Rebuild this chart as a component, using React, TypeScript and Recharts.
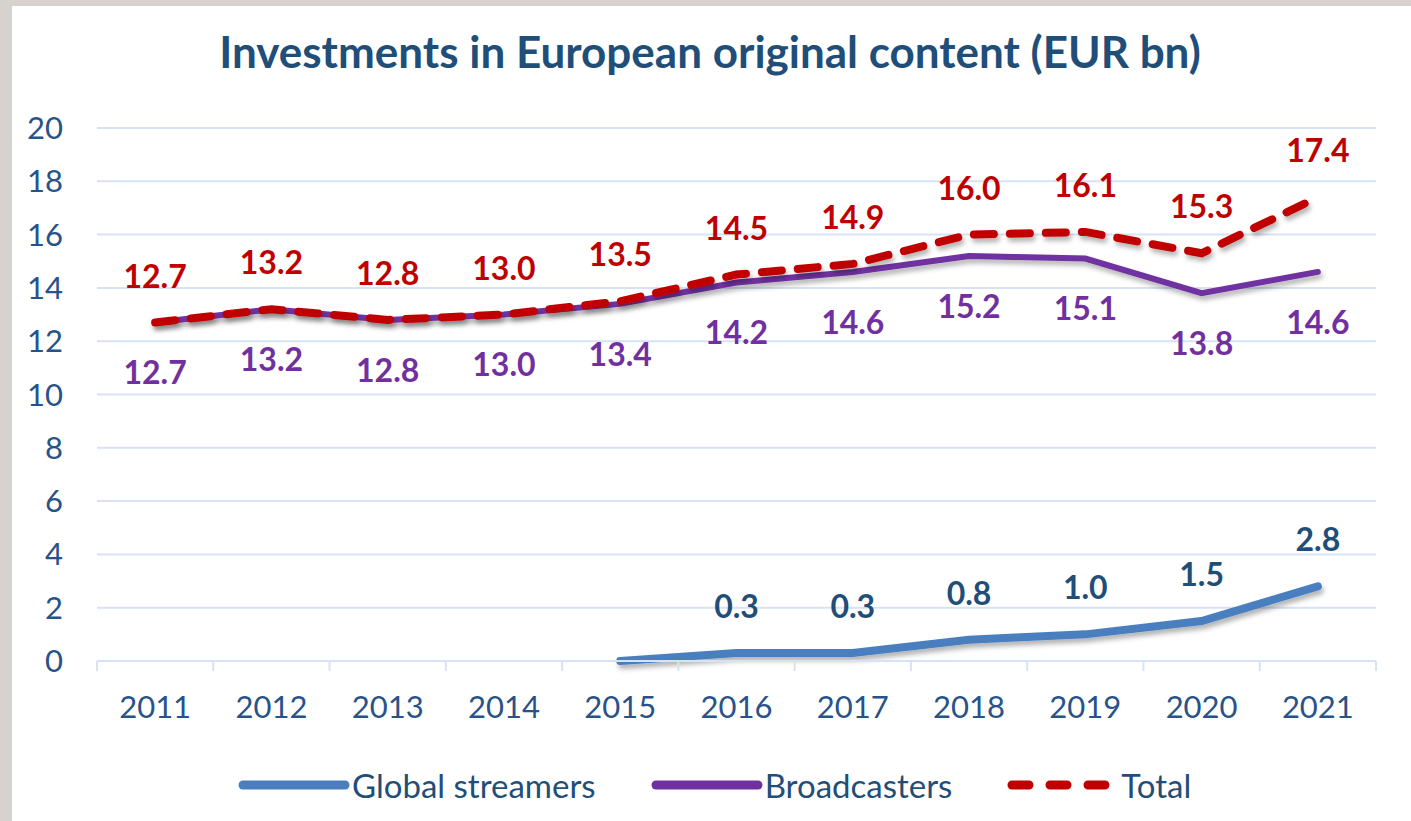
import React from "react";
import {
  LineChart,
  Line,
  XAxis,
  YAxis,
  CartesianGrid,
  LabelList,
} from "recharts";

const years = ["2011", "2012", "2013", "2014", "2015", "2016", "2017", "2018", "2019", "2020", "2021"];
const globalStreamers = [null, null, null, null, 0, 0.3, 0.3, 0.8, 1.0, 1.5, 2.8];
const broadcasters = [12.7, 13.2, 12.8, 13.0, 13.4, 14.2, 14.6, 15.2, 15.1, 13.8, 14.6];
const total = [12.7, 13.2, 12.8, 13.0, 13.5, 14.5, 14.9, 16.0, 16.1, 15.3, 17.4];
const yTicks = [0, 2, 4, 6, 8, 10, 12, 14, 16, 18, 20];

const W = 1411;
const H = 821;
const FONT = "Lato, 'Open Sans', sans-serif";
const NAVY = "#1f4e79";
const TICK = "#28528a";
const GRID = "#d9e2f3";
const BLUE = "#4a7ebf";
const PURPLE = "#7030a0";
const RED = "#c00000";

const data = years.map((year, i) => ({
  x: i + 0.5,
  year,
  global: globalStreamers[i],
  broadcasters: broadcasters[i],
  total: total[i],
}));

const markTicks = years.map((_, i) => i).concat(years.length);
const yearTicks = years.map((_, i) => i + 0.5);

const fmt = (v: any) => (v === null || v === undefined || v === 0 ? null : Number(v).toFixed(1));

const labelStyle = (fill: string) => ({
  fill,
  fontSize: 32,
  fontWeight: 700,
  fontFamily: FONT,
});

const legendItems = [
  { name: "Global streamers", color: BLUE, dashed: false },
  { name: "Broadcasters", color: PURPLE, dashed: false },
  { name: "Total", color: RED, dashed: true },
];

export default function App() {
  return (
    <div
      style={{
        position: "absolute",
        left: 0,
        top: 0,
        width: W,
        height: H,
        background: "#ffffff",
        fontFamily: FONT,
        overflow: "hidden",
      }}
    >
      <svg width={0} height={0} style={{ position: "absolute" }}>
        <defs>
          <filter id="lineShadow" x="-10%" y="-50%" width="120%" height="200%">
            <feDropShadow dx="2" dy="4" stdDeviation="2.5" floodColor="#000" floodOpacity="0.3" />
          </filter>
        </defs>
      </svg>
      <div style={{ position: "absolute", left: 0, top: 0, width: W, height: 6, background: "#d6d2cd" }} />
      <div style={{ position: "absolute", left: 0, top: 0, width: 12, height: H, background: "#d6d2cd" }} />

      <svg width={W} height={90} style={{ position: "absolute", left: 0, top: 0 }}>
        <text x={710} y={68} textAnchor="middle" fill={NAVY} fontSize={44} fontWeight={700} fontFamily={FONT}>
          Investments in European original content (EUR bn)
        </text>
      </svg>

      <div style={{ position: "absolute", left: 0, top: 0 }}>
        <LineChart
          width={W}
          height={H}
          data={data}
          margin={{ top: 128, right: 35, left: 0, bottom: 90 }}
        >
          <CartesianGrid xAxisId="marks" vertical={false} stroke={GRID} strokeWidth={2} />
          <XAxis
            xAxisId="marks"
            dataKey="x"
            type="number"
            domain={[0, years.length]}
            ticks={markTicks}
            interval={0}
            tickFormatter={() => ""}
            height={10}
            tickSize={10}
            axisLine={{ stroke: GRID, strokeWidth: 2 }}
            tickLine={{ stroke: GRID, strokeWidth: 2 }}
          />
          <XAxis
            xAxisId="years"
            dataKey="x"
            type="number"
            domain={[0, years.length]}
            ticks={yearTicks}
            interval={0}
            tickFormatter={(v: number) => years[Math.floor(v)]}
            height={60}
            tickSize={0}
            tickMargin={25}
            axisLine={false}
            tickLine={false}
            tick={{ fill: TICK, fontSize: 31, fontFamily: FONT }}
          />
          <YAxis
            domain={[0, 20]}
            ticks={yTicks}
            interval={0}
            width={97}
            tickSize={0}
            tickMargin={34}
            axisLine={false}
            tickLine={false}
            tick={{ fill: TICK, fontSize: 31, fontFamily: FONT }}
          />
          <Line
            xAxisId="marks"
            dataKey="global"
            type="linear"
            stroke={BLUE}
            strokeWidth={8}
            strokeLinecap="round"
            dot={false}
            activeDot={false}
            filter="url(#lineShadow)"
            isAnimationActive={false}
          >
            <LabelList dataKey="global" position="top" offset={35} formatter={fmt} style={labelStyle(NAVY)} />
          </Line>
          <Line
            xAxisId="marks"
            dataKey="broadcasters"
            type="linear"
            stroke={PURPLE}
            strokeWidth={6}
            strokeLinecap="round"
            dot={false}
            activeDot={false}
            filter="url(#lineShadow)"
            isAnimationActive={false}
          >
            <LabelList dataKey="broadcasters" position="bottom" offset={39} formatter={fmt} style={labelStyle(PURPLE)} />
          </Line>
          <Line
            xAxisId="marks"
            dataKey="total"
            type="linear"
            stroke={RED}
            strokeWidth={8}
            strokeDasharray="20 16"
            strokeLinecap="round"
            dot={false}
            activeDot={false}
            filter="url(#lineShadow)"
            isAnimationActive={false}
          >
            <LabelList dataKey="total" position="top" offset={35} formatter={fmt} style={labelStyle(RED)} />
          </Line>
        </LineChart>
      </div>

      <div
        style={{
          position: "absolute",
          left: 238,
          top: 765,
          height: 40,
          display: "flex",
          alignItems: "center",
          gap: 55,
        }}
      >
        {legendItems.map((item) => (
          <div key={item.name} style={{ display: "flex", alignItems: "center" }}>
            <svg width={112} height={14}>
              <line
                x1={5}
                y1={7}
                x2={107}
                y2={7}
                stroke={item.color}
                strokeWidth={9}
                strokeLinecap="round"
                strokeDasharray={item.dashed ? "17 21" : undefined}
              />
            </svg>
            <span style={{ color: NAVY, fontSize: 33, marginLeft: 2, lineHeight: "40px" }}>{item.name}</span>
          </div>
        ))}
      </div>
    </div>
  );
}
